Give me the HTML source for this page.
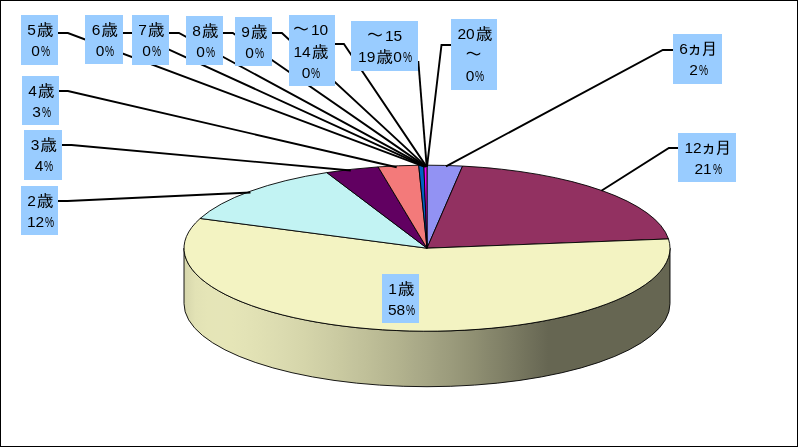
<!DOCTYPE html>
<html lang="ja"><head><meta charset="utf-8"><title>chart</title>
<style>
html,body{margin:0;padding:0;background:#fff;}
body{width:798px;height:447px;overflow:hidden;position:relative;}
#chart{position:absolute;left:0;top:0;width:798px;height:447px;box-sizing:border-box;border:1px solid #000;background:#fff;overflow:hidden;}
#chart svg{position:absolute;left:-1px;top:-1px;}
.lb{position:absolute;background:#99ccff;color:#000;font-family:"Liberation Sans","IPAGothic",sans-serif;font-size:15.5px;line-height:21px;text-align:center;white-space:nowrap;box-sizing:border-box;padding:4px 0 0 2px;margin:-1px 0 0 -1px;}
.lb b{font-weight:normal;font-size:17px;line-height:1px;position:relative;top:1px;}
.lb b.g{margin-left:1px;}
.lb b.t{top:-0.5px;left:-1.5px;}
.lb b.k{margin:0 -2.5px 0 -1.5px;}
.lb i{font-style:normal;display:inline-block;width:9px;margin-left:1px;transform:scaleX(.66);transform-origin:0 50%;}
</style></head><body>
<div id="chart">
<svg width="798" height="447" viewBox="0 0 798 447">
<defs>
<linearGradient id="sg" gradientUnits="userSpaceOnUse" x1="183" y1="0" x2="670" y2="0">
<stop offset="0.0000" stop-color="#d4d4aa"/><stop offset="0.0250" stop-color="#e2e2b5"/><stop offset="0.0500" stop-color="#e5e5b7"/><stop offset="0.0750" stop-color="#e5e5b8"/><stop offset="0.1000" stop-color="#e5e5b7"/><stop offset="0.1250" stop-color="#e3e3b6"/><stop offset="0.1500" stop-color="#e1e1b4"/><stop offset="0.1750" stop-color="#dedeb2"/><stop offset="0.2000" stop-color="#dbdbb0"/><stop offset="0.2250" stop-color="#d8d8ad"/><stop offset="0.2500" stop-color="#d5d5aa"/><stop offset="0.2750" stop-color="#d1d1a7"/><stop offset="0.3000" stop-color="#cdcda4"/><stop offset="0.3250" stop-color="#c9c9a0"/><stop offset="0.3500" stop-color="#c4c49d"/><stop offset="0.3750" stop-color="#c0c099"/><stop offset="0.4000" stop-color="#bbbb95"/><stop offset="0.4250" stop-color="#b6b691"/><stop offset="0.4500" stop-color="#b1b18d"/><stop offset="0.4750" stop-color="#abab89"/><stop offset="0.5000" stop-color="#a6a685"/><stop offset="0.5250" stop-color="#a0a080"/><stop offset="0.5500" stop-color="#9b9b7c"/><stop offset="0.5750" stop-color="#959577"/><stop offset="0.6000" stop-color="#8f8f72"/><stop offset="0.6250" stop-color="#88886d"/><stop offset="0.6500" stop-color="#828268"/><stop offset="0.6750" stop-color="#7b7b63"/><stop offset="0.7000" stop-color="#74745d"/><stop offset="0.7250" stop-color="#6d6d58"/><stop offset="0.7500" stop-color="#666652"/><stop offset="0.7750" stop-color="#666652"/><stop offset="0.8000" stop-color="#666652"/><stop offset="0.8250" stop-color="#666652"/><stop offset="0.8500" stop-color="#666652"/><stop offset="0.8750" stop-color="#666652"/><stop offset="0.9000" stop-color="#666652"/><stop offset="0.9250" stop-color="#666652"/><stop offset="0.9500" stop-color="#666652"/><stop offset="0.9750" stop-color="#666652"/><stop offset="1.0000" stop-color="#666652"/></linearGradient></defs>
<path d="M184.0 248.2 L184.0 303.7 A243.0 83.0 0 0 0 670.0 303.7 L670.0 248.2 A243.0 83.0 0 0 1 184.0 248.2 Z" fill="url(#sg)" stroke="#000" stroke-width="0.9"/>
<path d="M427.00 248.20 L427.00 165.20 A243.0 83.0 0 0 1 462.58 166.09 Z" fill="#9292f3" stroke="#000" stroke-width="0.9" stroke-linejoin="round"/>
<path d="M427.00 248.20 L462.58 166.09 A243.0 83.0 0 0 1 668.49 238.95 Z" fill="#923161" stroke="#000" stroke-width="0.9" stroke-linejoin="round"/>
<path d="M427.00 248.20 L668.49 238.95 A243.0 83.0 0 1 1 200.14 218.46 Z" fill="#f3f3c2" stroke="#000" stroke-width="0.9" stroke-linejoin="round"/>
<path d="M427.00 248.20 L200.14 218.46 A243.0 83.0 0 0 1 326.81 172.58 Z" fill="#c2f3f3" stroke="#000" stroke-width="0.9" stroke-linejoin="round"/>
<path d="M427.00 248.20 L326.81 172.58 A243.0 83.0 0 0 1 378.14 166.90 Z" fill="#610061" stroke="#000" stroke-width="0.9" stroke-linejoin="round"/>
<path d="M427.00 248.20 L378.14 166.90 A243.0 83.0 0 0 1 418.69 165.25 Z" fill="#f37a7a" stroke="#000" stroke-width="0.9" stroke-linejoin="round"/>
<path d="M427.00 248.20 L418.69 165.25 A243.0 83.0 0 0 1 423.90 165.21 Z" fill="#0061c2" stroke="#000" stroke-width="0.9" stroke-linejoin="round"/>
<path d="M427.00 248.20 L423.90 165.21 A243.0 83.0 0 0 1 427.00 165.20 Z" fill="#f300f3" stroke="#000" stroke-width="0.9" stroke-linejoin="round"/>
<path d="M57.0 33.0 L67.9 33.0 L424.3 166.6" fill="none" stroke="#000" stroke-width="1.9" stroke-linejoin="miter"/>
<path d="M122.0 33.0 L132.5 33.0 L425.0 166.6" fill="none" stroke="#000" stroke-width="1.9" stroke-linejoin="miter"/>
<path d="M168.0 33.0 L178.9 33.0 L425.5 166.6" fill="none" stroke="#000" stroke-width="1.9" stroke-linejoin="miter"/>
<path d="M222.0 33.0 L232.8 33.0 L425.9 166.6" fill="none" stroke="#000" stroke-width="1.9" stroke-linejoin="miter"/>
<path d="M271.0 33.0 L281.9 33.0 L426.2 166.6" fill="none" stroke="#000" stroke-width="1.9" stroke-linejoin="miter"/>
<path d="M334.0 44.0 L343.9 44.0 L426.5 166.6" fill="none" stroke="#000" stroke-width="1.9" stroke-linejoin="miter"/>
<path d="M418.3 61.0 L426.7 166.6" fill="none" stroke="#000" stroke-width="1.9" stroke-linejoin="miter"/>
<path d="M452.0 45.0 L441.5 45.0 L427.0 166.6" fill="none" stroke="#000" stroke-width="1.9" stroke-linejoin="miter"/>
<path d="M674.0 50.0 L662.8 50.0 L446.0 166.4" fill="none" stroke="#000" stroke-width="1.9" stroke-linejoin="miter"/>
<path d="M679.0 148.0 L668.9 148.0 L601.4 190.8" fill="none" stroke="#000" stroke-width="1.9" stroke-linejoin="miter"/>
<path d="M58.0 91.0 L67.9 91.0 L396.7 167.3" fill="none" stroke="#000" stroke-width="1.9" stroke-linejoin="miter"/>
<path d="M61.0 145.0 L71.5 145.0 L350.8 170.5" fill="none" stroke="#000" stroke-width="1.9" stroke-linejoin="miter"/>
<path d="M57.0 201.0 L67.5 201.0 L250.5 192.5" fill="none" stroke="#000" stroke-width="1.9" stroke-linejoin="miter"/>
</svg>
<div class="lb" style="left:21.0px;top:15.0px;width:37.0px;height:50.0px;">5<b class="g">歳</b><br>0<i>%</i></div>
<div class="lb" style="left:85.0px;top:15.0px;width:38.0px;height:49.0px;">6<b class="g">歳</b><br>0<i>%</i></div>
<div class="lb" style="left:132.0px;top:15.0px;width:37.0px;height:50.0px;">7<b class="g">歳</b><br>0<i>%</i></div>
<div class="lb" style="left:186.0px;top:16.0px;width:37.0px;height:49.0px;">8<b class="g">歳</b><br>0<i>%</i></div>
<div class="lb" style="left:235.0px;top:17.0px;width:37.0px;height:49.0px;">9<b class="g">歳</b><br>0<i>%</i></div>
<div class="lb" style="left:289.0px;top:15.0px;width:46.0px;height:71.0px;padding-left:0;padding-right:2px;line-height:21.6px"><b class="t">～</b>10<br>14<b class="g">歳</b><br>0<i>%</i></div>
<div class="lb" style="left:351.0px;top:21.0px;width:67.0px;height:50.0px;padding-left:1px"><b class="t">～</b>15<br>19<b class="g">歳</b>0<i>%</i></div>
<div class="lb" style="left:451.0px;top:19.0px;width:46.0px;height:71.0px;">20<b class="g">歳</b><br><b class="t">～</b><br>0<i>%</i></div>
<div class="lb" style="left:673.0px;top:34.0px;width:49.0px;height:50.0px;">6<b class="k">ヵ</b><b>月</b><br>2<i>%</i></div>
<div class="lb" style="left:678.0px;top:133.0px;width:58.0px;height:49.0px;">12<b class="k">ヵ</b><b>月</b><br>21<i>%</i></div>
<div class="lb" style="left:382.0px;top:274.0px;width:37.0px;height:49.0px;">1<b class="g">歳</b><br>58<i>%</i></div>
<div class="lb" style="left:21.0px;top:186.0px;width:37.0px;height:49.0px;">2<b class="g">歳</b><br>12<i>%</i></div>
<div class="lb" style="left:24.0px;top:130.0px;width:38.0px;height:50.0px;">3<b class="g">歳</b><br>4<i>%</i></div>
<div class="lb" style="left:22.0px;top:76.0px;width:37.0px;height:49.0px;">4<b class="g">歳</b><br>3<i>%</i></div>
</div></body></html>
